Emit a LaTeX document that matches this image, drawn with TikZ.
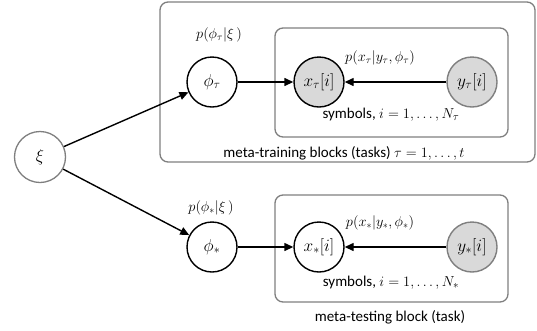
\documentclass[tikz,border=0pt]{standalone}
\usepackage{fontspec}
\setmainfont{Carlito}
\usetikzlibrary{arrows.meta}
\definecolor{boxgray}{HTML}{7F7F7F}
\definecolor{nodefill}{HTML}{D9D9D9}
\tikzset{
  varnode/.style={circle, draw=black, line width=1.4pt, minimum size=50pt, inner sep=0pt, font=\fontsize{18}{20}\selectfont},
  obsnode/.style={varnode, draw=boxgray, fill=nodefill},
  hypnode/.style={varnode, draw=boxgray, line width=1.3pt, minimum size=51pt},
  plate/.style={draw=boxgray, line width=1.3pt, rounded corners=8pt},
  plabel/.style={font=\fontsize{14}{16}\selectfont, inner sep=0pt},
  tlabel/.style={font=\fontsize{15}{17}\selectfont, inner sep=0pt},
  edge/.style={-{Triangle[length=9pt,width=8pt]}, line width=1.4pt, black}
}
\begin{document}
\begin{tikzpicture}[x=1pt,y=-1pt]
\useasboundingbox (0,0) rectangle (537,330);
% plates
\draw[plate] (160,2) rectangle (535,162);
\draw[plate] (275,28) rectangle (508,137);
\draw[plate] (275,195) rectangle (508,302);
% nodes
\node[hypnode] (xi) at (40,157) {$\xi$};
\node[varnode] (phit) at (212,82) {$\phi_\tau$};
\node[obsnode, draw=black] (xt) at (319,82) {$x_\tau[i]$};
\node[obsnode] (yt) at (472,82) {$y_\tau[i]$};
\node[varnode] (phis) at (212,247) {$\phi_*$};
\node[varnode] (xs) at (319,247) {$x_*[i]$};
\node[obsnode] (ys) at (472,247) {$y_*[i]$};
% labels
\node[plabel] (lpt) at (219,35) {$p(\phi_\tau|\xi\,)$};
\node[plabel] (lxt) at (380,58) {$p(x_\tau|y_\tau,\phi_\tau)$};
\node[tlabel] (st) at (391,115) {symbols, $i=1,\ldots,N_\tau$};
\node[tlabel] (mt) at (344,153) {meta-training blocks (tasks) $\tau=1,\ldots,t$};
\node[plabel] (lps) at (211,208) {$p(\phi_*|\xi\,)$};
\node[plabel] (lxs) at (380,223) {$p(x_*|y_*,\phi_*)$};
\node[tlabel] (ss) at (391,283) {symbols, $i=1,\ldots,N_*$};
\node[tlabel] (ms) at (390,317) {meta-testing block (task)};
% edges
\draw[edge] (xi) -- (phit);
\draw[edge] (xi) -- (phis);
\draw[edge] (phit) -- (xt);
\draw[edge] (yt) -- (xt);
\draw[edge] (phis) -- (xs);
\draw[edge] (ys) -- (xs);
\end{tikzpicture}
\end{document}
